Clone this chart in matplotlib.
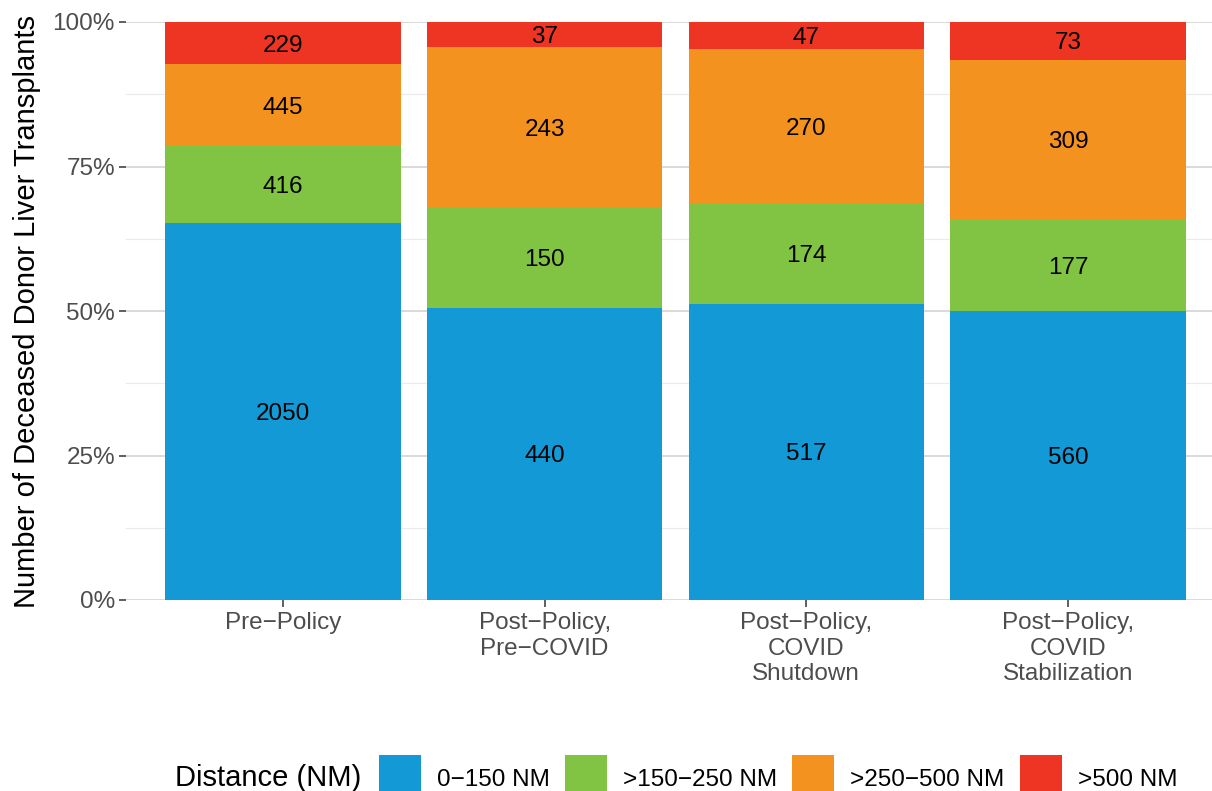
import matplotlib
matplotlib.use("Agg")
import matplotlib.pyplot as plt
import numpy as np
from matplotlib.patches import Rectangle

plt.rcParams['font.family'] = ['Liberation Sans', 'DejaVu Sans']

categories = ["Pre\u2212Policy", "Post\u2212Policy,\nPre\u2212COVID",
              "Post\u2212Policy,\nCOVID\nShutdown", "Post\u2212Policy,\nCOVID\nStabilization"]
series_names = ["0\u2212150 NM", ">150\u2212250 NM", ">250\u2212500 NM", ">500 NM"]
counts_0_150 = [2050, 440, 517, 560]
counts_150_250 = [416, 150, 174, 177]
counts_250_500 = [445, 243, 270, 309]
counts_500 = [229, 37, 47, 73]
colors = ["#1399D6", "#81C342", "#F3921F", "#EE3524"]
y_ticks = [0, 0.25, 0.5, 0.75, 1.0]
y_ticklabels = ["0%", "25%", "50%", "75%", "100%"]

W, H = 1212, 791
fig = plt.figure(figsize=(W / 100, H / 100), dpi=100)
ax_left, ax_right, ax_top, ax_bot = 126, 1225, 22, 600
ax = fig.add_axes([ax_left / W, 1 - ax_bot / H, (ax_right - ax_left) / W, (ax_bot - ax_top) / H])

series = np.array([counts_0_150, counts_150_250, counts_250_500, counts_500], dtype=float)
totals = series.sum(axis=0)
fracs = series / totals
x = np.arange(1, len(categories) + 1)

# grid
for yv in [0.125, 0.375, 0.625, 0.875]:
    ax.axhline(yv, color="#EBEBEB", lw=0.8, zorder=0)
for yv in y_ticks:
    ax.axhline(yv, color="#D9D9D9", lw=1.4, zorder=0)

bottom = np.zeros(len(categories))
for i in range(4):
    ax.bar(x, fracs[i], bottom=bottom, width=0.9, color=colors[i], zorder=2, linewidth=0)
    for j in range(len(categories)):
        ax.text(x[j], bottom[j] + fracs[i][j] / 2, f"{int(series[i][j])}",
                ha="center", va="center_baseline", fontsize=17.5, color="black", zorder=3)
    bottom += fracs[i]

ax.set_xlim(0.4, 4.6)
ax.set_ylim(0, 1)
for s in ax.spines.values():
    s.set_visible(False)
ax.set_yticks(y_ticks)
ax.set_yticklabels(y_ticklabels)
ax.set_xticks(x)
ax.set_xticklabels(categories, linespacing=1.2)
ax.tick_params(axis="both", colors="#333333", length=5, width=1.1, labelsize=17.5, labelcolor="#4D4D4D", pad=3)
ax.tick_params(axis="x", pad=4)
ax.set_ylabel("Number of Deceased Donor Liver Transplants", fontsize=21, color="black", labelpad=8)

# legend
leg_y = 775
fig.text(175 / W, 1 - leg_y / H, "Distance (NM)", fontsize=21, ha="left", va="center_baseline")
key_x = [379, 565, 792, 1020]
lab_x = [437, 623, 850, 1078]
for i in range(4):
    fig.add_artist(Rectangle((key_x[i] / W, 1 - 793 / H), 42 / W, 38 / H,
                             transform=fig.transFigure, color=colors[i], lw=0))
    fig.text(lab_x[i] / W, 1 - 777 / H, series_names[i], fontsize=17.5, ha="left", va="center_baseline")

fig.savefig("out.png", dpi=100)
